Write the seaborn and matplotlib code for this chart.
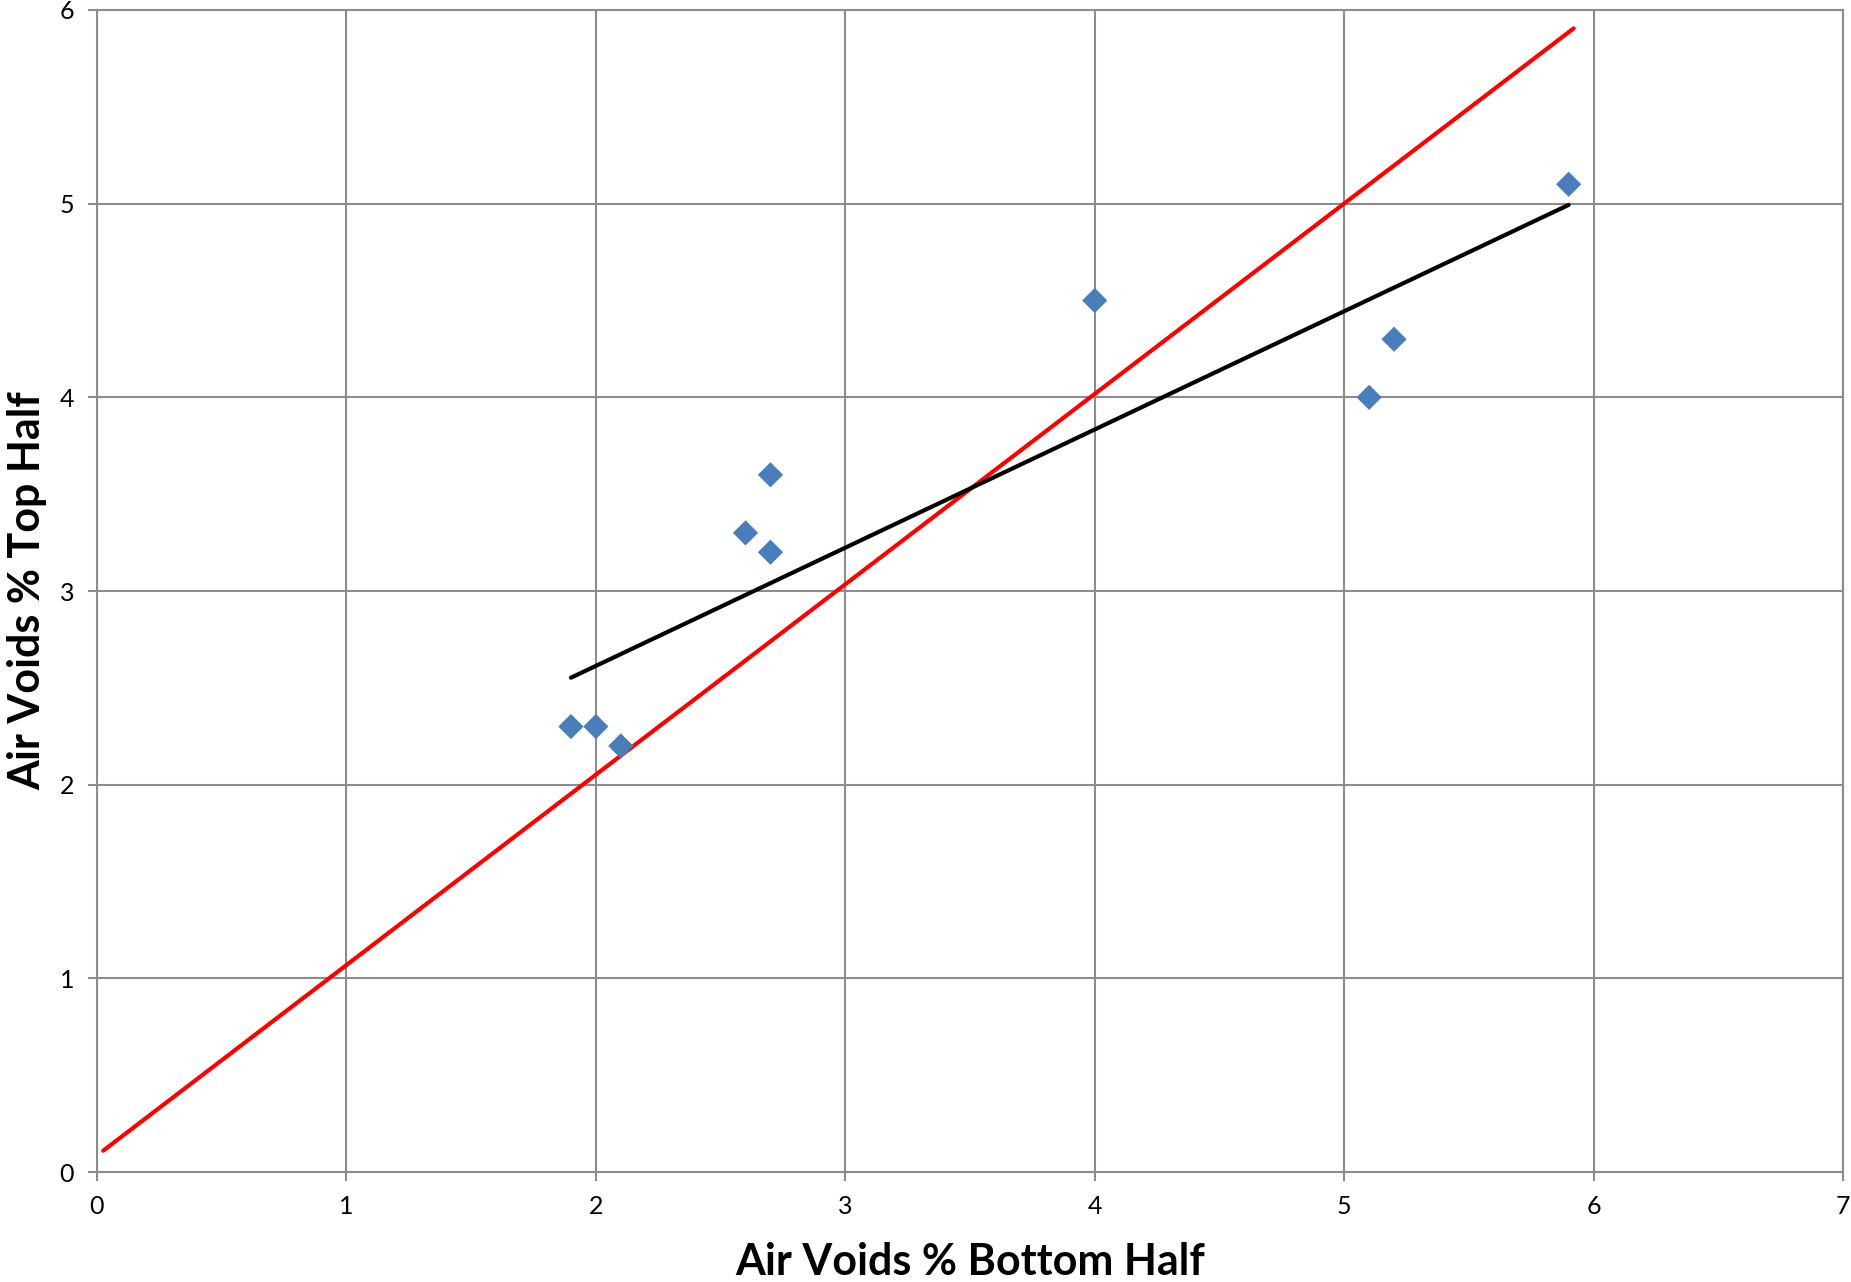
import numpy as np
import pandas as pd
import seaborn as sns
import matplotlib.pyplot as plt

sns.set_theme(style="white")
plt.rcParams['font.family'] = ['Lato', 'DejaVu Sans']

# Datos
bottom_half = [1.9, 2.0, 2.1, 2.6, 2.7, 2.7, 4.0, 5.1, 5.2, 5.9]
top_half = [2.3, 2.3, 2.2, 3.3, 3.6, 3.2, 4.5, 4.0, 4.3, 5.1]

# Linea roja de referencia (extremos)
ref_x = [0.025, 5.92]
ref_y = [0.11, 5.905]

x_ticks = [0, 1, 2, 3, 4, 5, 6, 7]
y_ticks = [0, 1, 2, 3, 4, 5, 6]

df = pd.DataFrame({'bottom': bottom_half, 'top': top_half})

gris = '#8c8c8c'

fig = plt.figure(figsize=(18.51, 12.82), dpi=100)
ax = fig.add_axes([0.0524, 0.0858, 0.9433, 0.9064])

ax.set_axisbelow(True)
ax.grid(True, color=gris, linewidth=1.5)

ax.plot(ref_x, ref_y, color='#ff0000', linewidth=3.0, solid_capstyle='round', zorder=3)
sns.regplot(data=df, x='bottom', y='top', ci=None, scatter=False, truncate=True,
            line_kws={'color': 'black', 'linewidth': 3.0, 'solid_capstyle': 'round', 'zorder': 3},
            ax=ax)
sns.scatterplot(data=df, x='bottom', y='top', marker='D', s=165, color='#4a7ebb',
                edgecolor='none', zorder=4, ax=ax)

ax.set_xlim(0, 7)
ax.set_ylim(0, 6)
ax.set_xticks(x_ticks)
ax.set_yticks(y_ticks)
ax.tick_params(axis='both', which='major', labelsize=18, labelcolor='black',
               length=6.5, width=1.5, direction='out', pad=10, color=gris)
ax.xaxis.set_ticks_position('bottom')
ax.yaxis.set_ticks_position('left')

for sp in ax.spines.values():
    sp.set_color(gris)
    sp.set_linewidth(1.5)

ax.set_xlabel('Air Voids % Bottom Half', fontsize=31, fontweight='bold',
              color='black', labelpad=17)
ax.set_ylabel('Air Voids % Top Half', fontsize=31, fontweight='bold',
              color='black', labelpad=9)

fig.savefig('out.png', dpi=100)
